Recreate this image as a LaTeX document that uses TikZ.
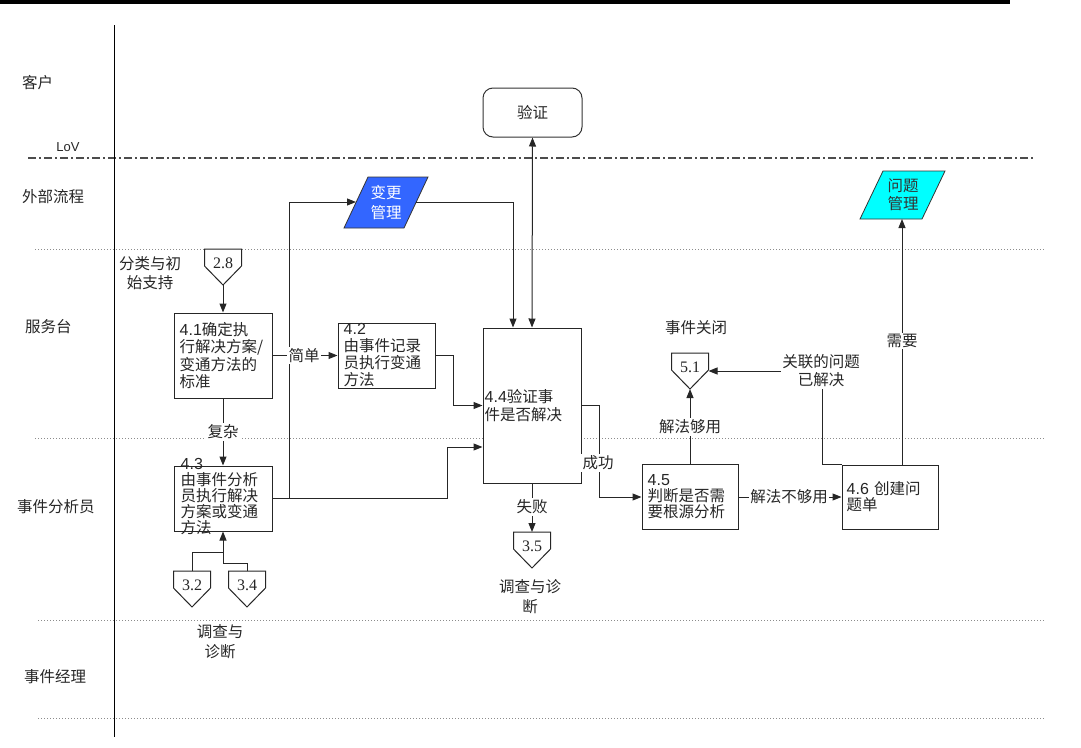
\documentclass[tikz,border=0pt]{standalone}
\usepackage{fontspec}
\setmainfont{Noto Sans CJK SC}
\newfontfamily\arialf{Liberation Sans}
\newfontfamily\timesf{Liberation Serif}
\usetikzlibrary{arrows.meta,calc}
\definecolor{chgblue}{RGB}{51,102,255}
\definecolor{pbcyan}{RGB}{0,255,255}
\newcommand\myoffpage[4]{%
  \draw[ln, fill=white] (#2-18.5,#3) -- (#2+18.5,#3) -- (#2+18.5,#3+17) -- (#2,#3+36) -- (#2-18.5,#3+17) -- cycle;
  \node[font=\timesf\fontsize{16}{17}\selectfont] (#1) at (#2,#3+14.5) {#4};
  \coordinate (#1-top) at (#2,#3);
  \coordinate (#1-tip) at (#2,#3+36);
  \coordinate (#1-right) at (#2+18.5,#3+18);
}
\begin{document}
\begin{tikzpicture}[x=1pt,y=-1pt,
  every node/.style={inner sep=0pt, font=\fontsize{15.5}{17}\selectfont, text=black!85},
  ln/.style={line width=1pt, draw=black!85},
  arr/.style={ln, -{Triangle[length=9pt,width=7pt]}},
  procbox/.style={draw=black!85, line width=1pt, fill=white},
  boxtext/.style={anchor=west, align=left, inner sep=0pt},
  lbl/.style={fill=white, inner sep=1.5pt},
  lane/.style={anchor=west},
  dotline/.style={draw=black!45, line width=1pt, dash pattern=on 1pt off 2pt}
]
\useasboundingbox (0,0) rectangle (1081,747);
% top bar
\fill[black] (0,0) rectangle (1010,4);
% swimlane lines
\draw[draw=black!70, line width=1.6pt, dash pattern=on 8pt off 3pt on 2pt off 3pt] (28,158) -- (1035,158);
\draw[dotline] (35,249) -- (1045,249);
\draw[dotline] (35,438) -- (1045,438);
\draw[dotline] (38,620) -- (1045,620);
\draw[dotline] (38,718) -- (1045,718);
\draw[line width=0.9pt, black] (114,25) -- (114,737);
% lane labels
\node[lane] (l1) at (22,83) {客户};
\node[font=\arialf\fontsize{13}{15}\selectfont] (lov) at (68,147) {LoV};
\node[lane] (l2) at (22,197) {外部流程};
\node[lane] (l3) at (25,327) {服务台};
\node[lane] (l4) at (17,507) {事件分析员};
\node[lane] (l5) at (24,677) {事件经理};

% Verify (customer)
\node[draw=black!80, line width=1pt, rounded corners=10pt, minimum width=99pt, minimum height=49pt] (ver) at (532.5,112.5) {验证};

% change management
\filldraw[fill=chgblue, draw=black!80, line width=0.8pt] (368,177) -- (428,177) -- (404,228) -- (344,228) -- cycle;
\node[text=white, align=center, font=\fontsize{15.5}{20}\selectfont] (chg) at (386,202.5) {变更\\管理};
\coordinate (chgL) at (356,202);
\coordinate (chgR) at (416,202);

% problem management
\filldraw[fill=pbcyan, draw=black!80, line width=0.8pt] (883,171) -- (945,171) -- (922,219) -- (860,219) -- cycle;
\node[text=black!80, align=center, font=\fontsize{15.5}{18}\selectfont] (pbm) at (903,195) {问题\\管理};
\coordinate (pbB) at (902,219);

% off-page connectors
\myoffpage{c28}{223}{249}{2.8}
\myoffpage{c32}{192}{571}{3.2}
\myoffpage{c34}{247}{571}{3.4}
\myoffpage{c35}{532}{532}{3.5}
\myoffpage{c51}{690}{353}{5.1}

% process boxes
\node[procbox, minimum width=98pt, minimum height=85pt] (n41) at (223,355.5) {};
\node[boxtext, text width=90pt, font=\fontsize{15.5}{17.3}\selectfont] (t41) at ($(n41.west)+(6,0)$) {{\arialf\fontsize{16}{17}\selectfont 4.1}确定执\\行解决方案/\\变通方法的\\标准};

\node[procbox, minimum width=97pt, minimum height=65pt] (n42) at (386.5,355.5) {};
\node[boxtext, text width=88pt, font=\fontsize{15.5}{17}\selectfont] (t42) at ($(n42.west)+(6,0)$) {{\arialf\fontsize{16}{17}\selectfont 4.2}\\由事件记录\\员执行变通\\方法};

\node[procbox, minimum width=98pt, minimum height=65pt] (n43) at (223,498.5) {};
\node[boxtext, text width=88pt, font=\fontsize{15.5}{15.8}\selectfont] (t43) at ($(n43.west)+(7,-2)$) {{\arialf\fontsize{16}{15.8}\selectfont 4.3}\\由事件分析\\员执行解决\\方案或变通\\方法};

\node[procbox, minimum width=98pt, minimum height=155pt] (n44) at (532,405.5) {};
\node[boxtext, text width=94pt, font=\fontsize{15.5}{18}\selectfont] (t44) at ($(n44.west)+(2,0)$) {{\arialf\fontsize{16}{18}\selectfont 4.4}验证事\\件是否解决};

\node[procbox, minimum width=96pt, minimum height=65pt] (n45) at (690,497) {};
\node[boxtext, text width=88pt, font=\fontsize{15.5}{16}\selectfont] (t45) at ($(n45.west)+(6,0)$) {{\arialf\fontsize{16}{16}\selectfont 4.5}\\判断是否需\\要根源分析};

\node[procbox, minimum width=96pt, minimum height=64pt] (n46) at (890,497) {};
\node[boxtext, text width=88pt, font=\fontsize{15.5}{16}\selectfont] (t46) at ($(n46.west)+(5,0)$) {{\arialf\fontsize{16}{16}\selectfont 4.6} 创建问\\题单};

% connectors
\draw[arr] (c28-tip) -- (n41.north);
\draw[arr] (n41.south) -- (n43.north);
\draw[arr] (n43.east) -- (289,498.5) |- (chgL);
\draw[arr] (n43.east) -- (447,498.5) |- ($(n44.west)+(0,41.5)$);
\draw[arr] (n41.east) -- (n42.west);
\draw[arr] (n42.east) -- (453,355.5) |- (n44.west);
\draw[arr] (chgR) -| ($(n44.north)+(-19,0)$);
\draw[ln, {Triangle[length=9pt,width=7pt]}-{Triangle[length=9pt,width=7pt]}] (ver.south) -- (n44.north);
\draw[arr] (n44.south) -- (c35-top);
\draw[arr] (n44.east) -- (599,405.5) |- (n45.west);
\draw[arr] (n45.north) -- (c51-tip);
\draw[arr] (n45.east) -- (n46.west);
\draw[arr] (n46.north west) -- ++(-19,0) |- (c51-right);
\draw[arr] (n46.north -| pbB) -- (pbB);
\draw[ln] (c32-top) |- (223,552);
\draw[ln] (c34-top) |- (223,563);
\draw[arr] (223,563) -- (n43.south);

% connector labels
\node[lbl] (lb1) at (304,355.5) {简单};
\node[lbl] (lb2) at (223,432) {复杂};
\node[lbl] (lb3) at (532,507) {失败};
\node[lbl] (lb4) at (598,463) {成功};
\node[lbl] (lb5) at (690,427) {解法够用};
\node[lbl] (lb6) at (789,497) {解法不够用};
\node[lbl, align=center, font=\fontsize{15.5}{18}\selectfont] (lb7) at (821,371) {关联的问题\\已解决};
\node[lbl] (lb8) at (902,341) {需要};

% free labels
\node[align=center, font=\fontsize{15.5}{19}\selectfont] (fl1) at (150,273.5) {分类与初\\始支持};
\node[align=center, font=\fontsize{15.5}{20}\selectfont] (fl2) at (220,642) {调查与\\诊断};
\node[align=center, font=\fontsize{15.5}{20}\selectfont] (fl3) at (530,597) {调查与诊\\断};
\node (fl4) at (696,328) {事件关闭};
\end{tikzpicture}
\end{document}
